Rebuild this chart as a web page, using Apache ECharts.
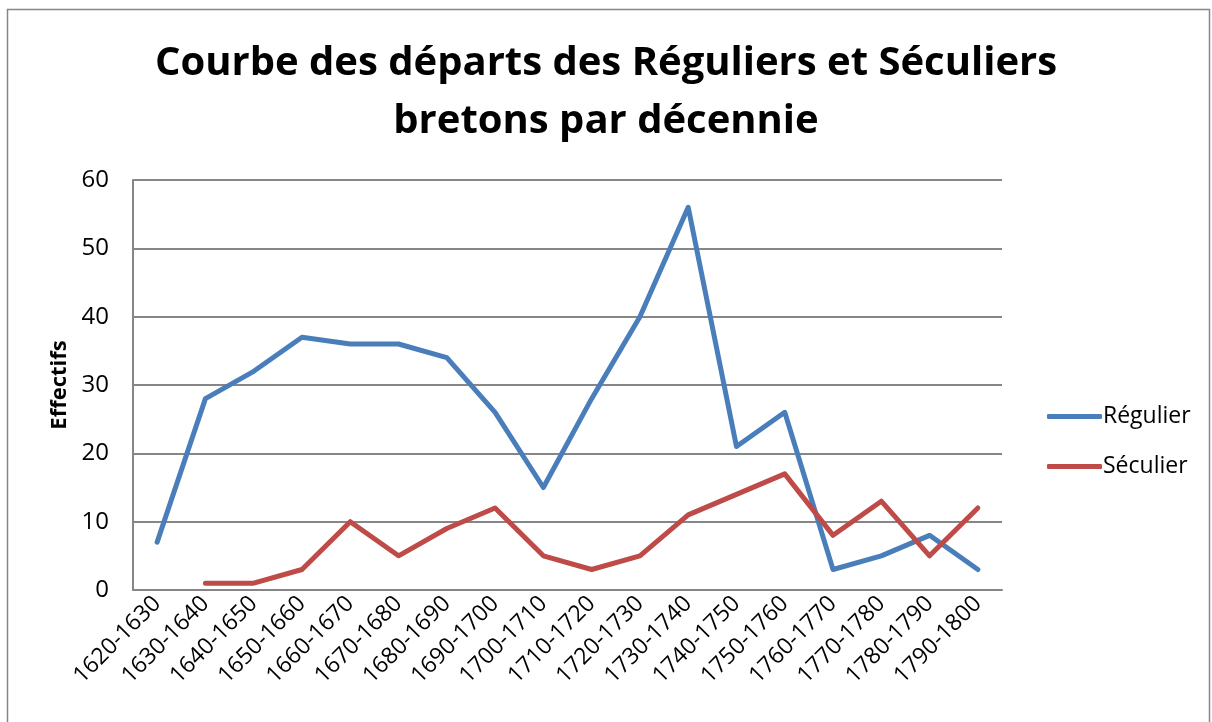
<!DOCTYPE html>
<html>
<head>
<meta charset="utf-8">
<script src="https://cdn.jsdelivr.net/npm/echarts@6/dist/echarts.min.js"></script>
<style>
  html, body { margin: 0; padding: 0; background: #fff; }
  #chart { width: 1212px; height: 722px; }
</style>
</head>
<body>
<div id="chart"></div>
<script>
// décennies
const decennies = [
  "1620-1630", "1630-1640", "1640-1650", "1650-1660", "1660-1670", "1670-1680",
  "1680-1690", "1690-1700", "1700-1710", "1710-1720", "1720-1730", "1730-1740",
  "1740-1750", "1750-1760", "1760-1770", "1770-1780", "1780-1790", "1790-1800"
];
const reguliers = [7, 28, 32, 37, 36, 36, 34, 26, 15, 28, 40, 56, 21, 26, 3, 5, 8, 3];
const seculiers = [null, 1, 1, 3, 10, 5, 9, 12, 5, 3, 5, 11, 14, 17, 8, 13, 5, 12];

const font = "'Open Sans', 'Liberation Sans', sans-serif";

const chart = echarts.init(document.getElementById("chart"));
chart.setOption({
  animation: false,
  textStyle: { fontFamily: font },
  graphic: [
    {
      type: "rect",
      shape: { x: 7.5, y: 9.5, width: 1202, height: 730 },
      style: { fill: "none", stroke: "#868686", lineWidth: 1.5 },
      silent: true
    }
  ],
  title: {
    text: "Courbe des départs des Réguliers et Séculiers\nbretons par décennie",
    left: "center",
    top: 30,
    textStyle: {
      fontFamily: font,
      fontSize: 40,
      fontWeight: "bold",
      color: "#000",
      lineHeight: 58
    }
  },
  legend: {
    orient: "vertical",
    left: 1042,
    top: 400,
    itemWidth: 55,
    itemHeight: 5,
    itemGap: 27,
    icon: "roundRect",
    textStyle: { fontFamily: font, fontSize: 23, color: "#000", padding: [0, 0, 0, -4] },
    data: ["Régulier", "Séculier"]
  },
  grid: {
    left: 133,
    top: 180,
    right: 210,
    bottom: 132,
    containLabel: false
  },
  xAxis: {
    type: "category",
    data: decennies,
    boundaryGap: true,
    axisLine: { lineStyle: { color: "#868686", width: 2 } },
    axisTick: { show: false },
    axisLabel: {
      rotate: 45,
      interval: 0,
      margin: 10,
      fontFamily: font,
      fontSize: 23,
      color: "#000"
    }
  },
  yAxis: {
    type: "value",
    min: 0,
    max: 60,
    interval: 10,
    name: "Effectifs",
    nameLocation: "middle",
    nameGap: 62,
    nameTextStyle: { fontFamily: font, fontSize: 22, fontWeight: "bold", color: "#000" },
    axisLine: { show: true, lineStyle: { color: "#868686", width: 2 } },
    axisTick: { show: false },
    splitLine: { lineStyle: { color: "#868686", width: 2 } },
    axisLabel: { margin: 24, fontFamily: font, fontSize: 24, color: "#000" }
  },
  series: [
    {
      name: "Régulier",
      type: "line",
      data: reguliers,
      showSymbol: false,
      symbol: "none",
      itemStyle: { color: "#4A7EBB" },
      lineStyle: { color: "#4A7EBB", width: 5, cap: "round", join: "round" }
    },
    {
      name: "Séculier",
      type: "line",
      data: seculiers,
      showSymbol: false,
      symbol: "none",
      itemStyle: { color: "#BE4B48" },
      lineStyle: { color: "#BE4B48", width: 5, cap: "round", join: "round" }
    }
  ]
});
</script>
</body>
</html>
